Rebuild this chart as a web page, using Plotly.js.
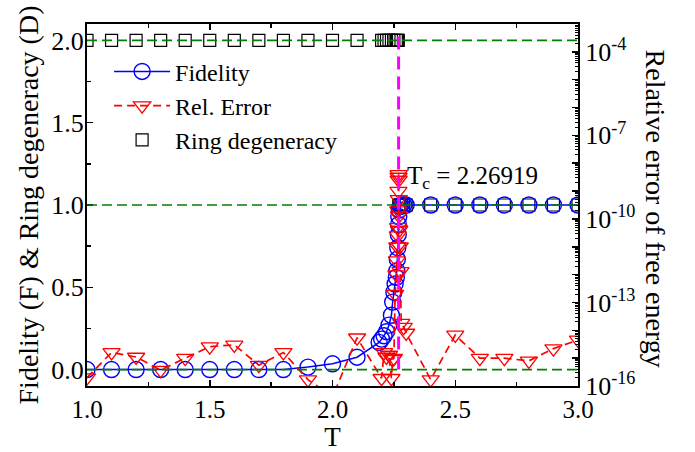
<!DOCTYPE html>
<html>
<head>
<meta charset="utf-8">
<script src="https://cdn.plot.ly/plotly-3.0.1.min.js"></script>
<style>html,body{margin:0;padding:0;background:#fff;}#chart{width:695px;height:452px;}</style>
</head>
<body>
<div id="chart"></div>
<script>
// Fidelity (left axis)
const fidT = [1.0,1.1,1.2,1.3,1.4,1.5,1.6,1.7,1.8,1.9,2.0,2.1,2.19,2.2,2.21,2.22,2.23,2.24,2.245,2.25,2.255,2.26,2.262,2.264,2.266,2.268,2.269,2.27,2.272,2.275,2.28,2.29,2.3,2.4,2.5,2.6,2.7,2.8,2.9,3.0];
const fidF = [0,0,0,0,0,0,0,0,0,0.015,0.035,0.075,0.165,0.185,0.205,0.23,0.27,0.33,0.41,0.47,0.52,0.56,0.60,0.67,0.74,0.82,0.88,0.93,0.97,0.99,1.0,1.0,1.0,1.0,1.0,1.0,1.0,1.0,1.0,1.0];
// Ring degeneracy (left axis)
const ringT = [1.0,1.1,1.2,1.3,1.4,1.5,1.6,1.7,1.8,1.9,2.0,2.1,2.2,2.21,2.22,2.23,2.24,2.25,2.26,2.265,2.268,2.27,2.275,2.28,2.29,2.3,2.4,2.5,2.6,2.7,2.8,2.9,3.0];
const ringD = [2,2,2,2,2,2,2,2,2,2,2,2,2,2,2,2,2,2,2,2,2,1,1,1,1,1,1,1,1,1,1,1,1];
// Relative error of free energy (right, log axis)
const errT = [1.0,1.1,1.2,1.3,1.4,1.5,1.6,1.7,1.8,1.9,2.0,2.1,2.2,2.21,2.22,2.23,2.24,2.245,2.25,2.255,2.26,2.262,2.264,2.266,2.267,2.268,2.2685,2.269,2.2692,2.2695,2.27,2.271,2.272,2.274,2.277,2.28,2.29,2.3,2.4,2.5,2.6,2.7,2.8,2.9,3.0];
const errV = [2.0e-16,1.6e-15,1.1e-15,3.7e-16,1.0e-15,2.6e-15,3.0e-15,5.6e-16,1.6e-15,1.7e-16,4.0e-17,5.4e-15,1.9e-16,1.6e-15,1.1e-15,1.3e-15,1.9e-16,9.0e-16,1.0e-15,2.0e-13,1.0e-12,3.2e-12,1.0e-11,2.5e-11,5.0e-11,2.0e-10,1.0e-9,3.2e-9,4.0e-9,2.5e-9,5.0e-10,1.3e-10,4.0e-11,1.0e-11,1.3e-12,1.8e-14,1.3e-14,8.0e-15,1.7e-16,6.8e-15,1.0e-15,1.0e-15,8.0e-16,2.2e-15,4.5e-15];
// reference lines
const hLines = [0,1,2];
const Tc = 2.26919;
const decadeExp = [-16,-15,-14,-13,-12,-11,-10,-9,-8,-7,-6,-5,-4,-3];
const rightLabelExp = [-16,-13,-10,-7,-4];

const FONT = "'Liberation Serif', 'Times New Roman', serif";

const traces = [
  {x: ringT, y: ringD, name: 'Ring degeneracy', type: 'scatter', mode: 'markers', legendrank: 3,
   marker: {symbol: 'square-open', size: 12, color: '#000', line: {width: 1.2}}},
  {x: fidT, y: fidF, name: 'Fidelity', type: 'scatter', mode: 'lines+markers', legendrank: 1,
   line: {color: '#0000ff', width: 1.5},
   marker: {symbol: 'circle-open', size: 16, color: '#0000ff', line: {width: 1.4}}},
  {x: errT, y: errV, name: 'Rel. Error', type: 'scatter', mode: 'lines+markers', yaxis: 'y2', legendrank: 2,
   line: {color: '#ff0000', width: 1.7, dash: '8px,5px'},
   marker: {symbol: 'triangle-down-open', size: 15, color: '#ff0000', line: {width: 1.3}}}
];

const shapes = hLines.map(v => ({type: 'line', xref: 'paper', x0: 0, x1: 1, yref: 'y', y0: v, y1: v,
  line: {color: '#008000', width: 1.7, dash: '10px,5px'}, layer: 'above'}));
shapes.push({type: 'line', xref: 'x', x0: Tc, x1: Tc, yref: 'y', y0: 0, y1: 2.05,
  line: {color: '#ff00ff', width: 3, dash: '13px,7px'}, layer: 'above'});

const layout = {
  width: 695, height: 452,
  margin: {l: 87, r: 117, t: 24, b: 66},
  paper_bgcolor: '#fff', plot_bgcolor: '#fff',
  font: {family: FONT, size: 24, color: '#000'},
  showlegend: true,
  legend: {x: 0.045, y: 0.93, xanchor: 'left', yanchor: 'top', bgcolor: 'rgba(0,0,0,0)',
    font: {family: FONT, size: 24}, itemwidth: 56, tracegroupgap: 0},
  xaxis: {range: [1.0, 3.0], dtick: 0.5, tick0: 1.0, tickformat: '.1f',
    showline: true, linecolor: '#000', linewidth: 2, mirror: 'ticks',
    ticks: 'inside', ticklen: 6, tickwidth: 1.5, tickcolor: '#000',
    minor: {dtick: 0.25, ticks: 'inside', ticklen: 4, tickwidth: 1.5, tickcolor: '#000'},
    showgrid: false, zeroline: false,
    tickfont: {family: FONT, size: 25},
    title: {text: 'T', font: {family: FONT, size: 27}, standoff: 8}},
  yaxis: {range: [-0.1, 2.1], dtick: 0.5, tick0: 0, tickformat: '.1f',
    showline: true, linecolor: '#000', linewidth: 2,
    ticks: 'inside', ticklen: 6, tickwidth: 1.5, tickcolor: '#000',
    minor: {dtick: 0.25, ticks: 'inside', ticklen: 4, tickwidth: 1.5, tickcolor: '#000'},
    showgrid: false, zeroline: false,
    tickfont: {family: FONT, size: 26}, ticklabelstandoff: -4,
    title: {text: 'Fidelity (F) &amp; Ring degeneracy (D)', font: {family: FONT, size: 28}, standoff: 4}},
  yaxis2: {type: 'log', range: [-16, -3], overlaying: 'y', side: 'right', anchor: 'x',
    showline: true, linecolor: '#000', linewidth: 2,
    tickmode: 'array',
    tickvals: rightLabelExp.map(e => Math.pow(10, e)),
    ticktext: rightLabelExp.map(e => '10<sup>' + e + '</sup>'),
    ticks: 'inside', ticklen: 6, tickwidth: 1.5, tickcolor: '#000',
    showgrid: false, zeroline: false,
    tickfont: {family: FONT, size: 26},
    ticklabelstandoff: 0},
  yaxis3: {type: 'log', range: [-16, -3], overlaying: 'y', side: 'right', anchor: 'x',
    showline: false, showticklabels: false,
    tickmode: 'array', tickvals: decadeExp.map(e => Math.pow(10, e)),
    ticks: 'inside', ticklen: 6, tickwidth: 1.5, tickcolor: '#000',
    minor: {dtick: 'D1', ticks: 'inside', ticklen: 3, tickwidth: 1, tickcolor: '#000'},
    showgrid: false, zeroline: false},
  shapes: shapes,
  annotations: [
    {text: 'Relative error of free energy', xref: 'paper', yref: 'paper', x: 1.157, y: 0.49,
     xanchor: 'center', yanchor: 'middle', textangle: 90, showarrow: false,
     font: {family: FONT, size: 28}},
    {text: 'T<sub>c</sub> = 2.26919', xref: 'x', yref: 'y', x: 2.297, y: 1.165,
     xanchor: 'left', yanchor: 'middle', showarrow: false,
     font: {family: FONT, size: 25}}
  ]
};

// invisible carrier trace so the tick-only axis is drawn
traces.push({x: [1.0], y: [1e-20], yaxis: 'y3', type: 'scatter', mode: 'markers', showlegend: false,
  hoverinfo: 'skip', marker: {opacity: 0}});

Plotly.newPlot('chart', traces, layout, {displayModeBar: false, staticPlot: true});
</script>
</body>
</html>
